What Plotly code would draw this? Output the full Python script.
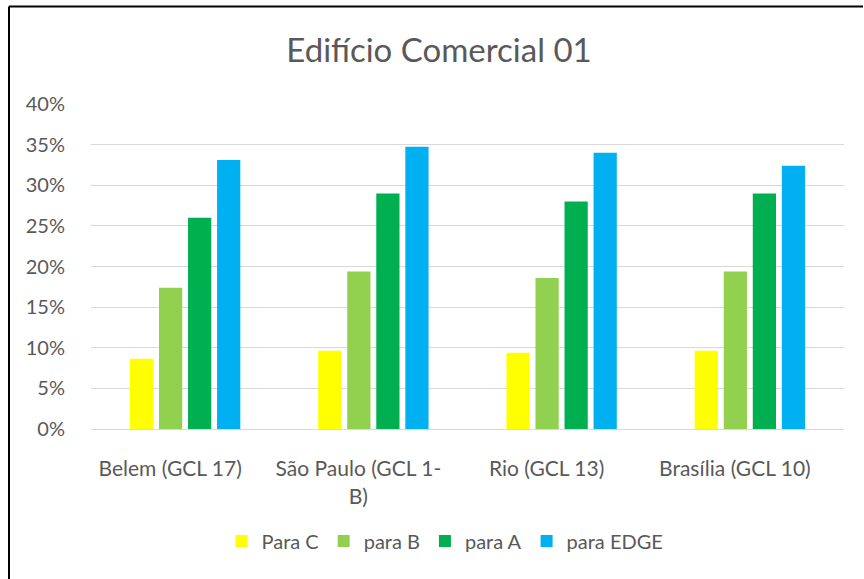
import plotly.graph_objects as go

categories = ["Belem (GCL 17)", "São Paulo (GCL 1-<br>B)", "Rio (GCL 13)", "Brasília (GCL 10)"]
series_names = ["Para C", "para B", "para A", "para EDGE"]
para_c = [0.0866, 0.0964, 0.094, 0.0964]
para_b = [0.174, 0.194, 0.186, 0.194]
para_a = [0.260, 0.290, 0.280, 0.290]
para_edge = [0.331, 0.3475, 0.340, 0.324]
colors = ["#FFFF00", "#92D050", "#00B050", "#00B0F0"]
y_ticks = [0, 0.05, 0.10, 0.15, 0.20, 0.25, 0.30, 0.35, 0.40]

W, H = 864, 579
L, R, T, B = 91, 20, 104, 150
pw, ph = W - L - R, H - T - B

def px_x(x):
    return (x - L) / pw

def px_y(y):
    return (H - B - y) / ph

fig = go.Figure()
for name, vals, col in zip(series_names, [para_c, para_b, para_a, para_edge], colors):
    fig.add_trace(go.Bar(name=name, x=categories, y=vals, marker=dict(color=col, line=dict(width=0))))

font_family = "Lato, 'Open Sans', sans-serif"
fig.update_layout(
    width=W, height=H,
    margin=dict(l=L, r=R, t=T, b=B, autoexpand=False),
    paper_bgcolor="white", plot_bgcolor="white",
    barmode="group", bargap=0.383, bargroupgap=0.2,
    font=dict(family=font_family, color="#595959", size=20),
    title=dict(text="Edifício Comercial 01", x=px_x(439), xanchor="center", xref="paper",
               y=1 - 50 / H, yanchor="middle", font=dict(size=33, color="#595959", family=font_family)),
    yaxis=dict(range=[0, 0.40], tickvals=y_ticks, tickformat=".0%", showgrid=True,
               gridcolor="#D9D9D9", gridwidth=1.3, zeroline=False, showline=False,
               ticklabelstandoff=25, tickfont=dict(size=20, color="#595959")),
    xaxis=dict(showline=True, linecolor="#D9D9D9", linewidth=1.3, ticks="",
               ticklabelstandoff=21, ticklabelshift=-15, tickfont=dict(size=21, color="#595959")),
    legend=dict(orientation="h", x=px_x(445), xanchor="center", y=px_y(541), yanchor="middle",
                font=dict(size=20, color="#595959"), itemwidth=30, traceorder="normal"),
    showlegend=True,
    shapes=[
        dict(type="line", xref="paper", yref="paper", x0=px_x(9), x1=px_x(9), y0=px_y(H), y1=px_y(6.5),
             line=dict(color="black", width=2)),
        dict(type="line", xref="paper", yref="paper", x0=px_x(9), x1=px_x(W - 1), y0=px_y(6.5), y1=px_y(6.5),
             line=dict(color="black", width=2)),
    ],
)

fig.write_html("out.html", config={"displayModeBar": False},
               post_script="document.body.style.margin='0px';document.body.style.overflow='hidden';"
                           "document.documentElement.style.overflow='hidden';")
